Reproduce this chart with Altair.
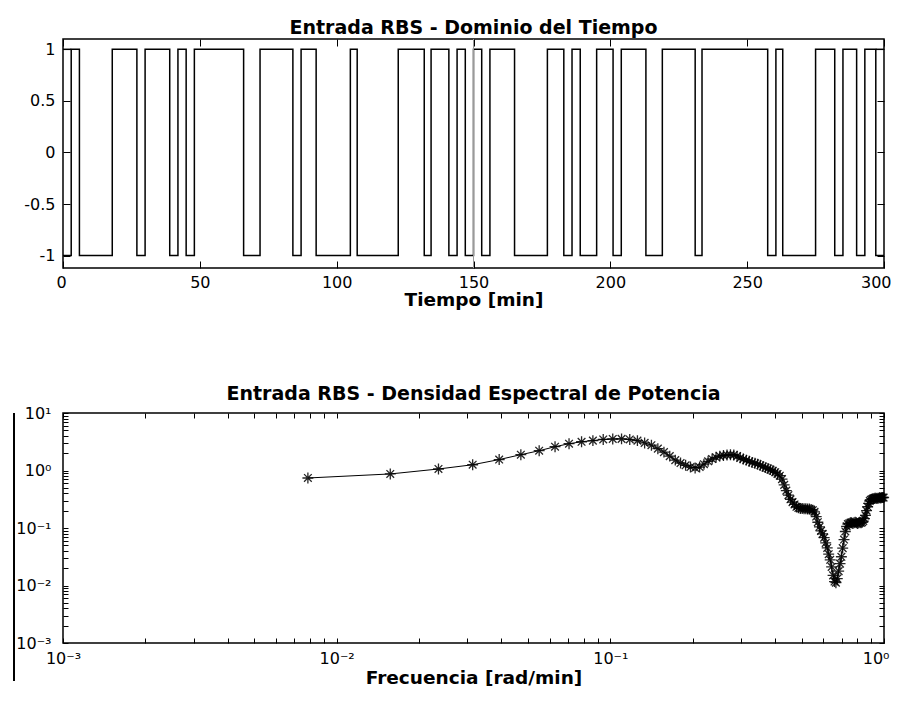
import altair as alt
import pandas as pd

# ---------------- top panel: RBS input, time domain ----------------
SWITCH_T = [3, 6, 18, 27, 30, 39, 42, 45, 48, 66, 72, 84, 87, 92.5, 105, 107.5,
            122.5, 132, 134.5, 141, 144, 147, 150, 153, 156, 165, 177, 183, 186,
            189, 195, 201, 204, 213, 219, 231, 233.5, 257.5, 260.5, 263, 275, 282,
            285, 290, 293, 297]
START_LEVEL = -1
T_END = 300
EXTRA_TOP = [[0, 3], [297, 300]]
MARK_T = [150]
X_TICKS_T = [0, 50, 100, 150, 200, 250, 300]
Y_TICKS_T = [-1, -0.5, 0, 0.5, 1]

# ---------------- bottom panel: power spectral density ----------------
FREQ = [0.00785, 0.0157, 0.02355, 0.0314, 0.03925, 0.0471, 0.05495, 0.0628, 0.07065, 0.0785,
        0.08635, 0.0942, 0.10205, 0.1099, 0.11775, 0.1256, 0.13345, 0.1413, 0.14915, 0.157,
        0.16485, 0.1727, 0.18055, 0.1884, 0.19625, 0.2041, 0.21195, 0.2198, 0.22765, 0.2355,
        0.24335, 0.2512, 0.25905, 0.2669, 0.27475, 0.2826, 0.29045, 0.2983, 0.30615, 0.314,
        0.32185, 0.3297, 0.33755, 0.3454, 0.35325, 0.3611, 0.36895, 0.3768, 0.38465, 0.3925,
        0.40035, 0.4082, 0.41605, 0.4239, 0.43175, 0.4396, 0.44745, 0.4553, 0.46315, 0.471,
        0.47885, 0.4867, 0.49455, 0.5024, 0.51025, 0.5181, 0.52595, 0.5338, 0.54165, 0.5495,
        0.55735, 0.5652, 0.57305, 0.5809, 0.58875, 0.5966, 0.60445, 0.6123, 0.62015, 0.628,
        0.63585, 0.6437, 0.65155, 0.6594, 0.66725, 0.6751, 0.68295, 0.6908, 0.69865, 0.7065,
        0.71435, 0.7222, 0.73005, 0.7379, 0.74575, 0.7536, 0.76145, 0.7693, 0.77715, 0.785,
        0.79285, 0.8007, 0.80855, 0.8164, 0.82425, 0.8321, 0.83995, 0.8478, 0.85565, 0.8635,
        0.87135, 0.8792, 0.88705, 0.8949, 0.90275, 0.9106, 0.91845, 0.9263, 0.93415, 0.942,
        0.94985, 0.9577, 0.96555, 0.9734, 0.98125, 0.9891, 0.99695]
PSD = [0.741, 0.871, 1.062, 1.259, 1.549, 1.884, 2.208, 2.594, 2.924, 3.162,
       3.311, 3.467, 3.532, 3.548, 3.467, 3.311, 3.020, 2.754, 2.399, 2.089,
       1.778, 1.514, 1.349, 1.230, 1.148, 1.109, 1.148, 1.288, 1.445, 1.585,
       1.698, 1.778, 1.820, 1.862, 1.884, 1.862, 1.778, 1.660, 1.585, 1.514,
       1.445, 1.380, 1.334, 1.288, 1.230, 1.175, 1.122, 1.084, 1.035, 0.989,
       0.933, 0.871, 0.813, 0.708, 0.562, 0.447, 0.372, 0.316, 0.282, 0.257,
       0.234, 0.224, 0.219, 0.219, 0.216, 0.216, 0.214, 0.214, 0.209, 0.204,
       0.191, 0.158, 0.126, 0.105, 0.089, 0.079, 0.068, 0.055, 0.045, 0.035,
       0.028, 0.021, 0.015, 0.0117, 0.0112, 0.0132, 0.0178, 0.024, 0.0316, 0.0447,
       0.063, 0.087, 0.107, 0.117, 0.120, 0.123, 0.123, 0.120, 0.123, 0.126,
       0.123, 0.120, 0.123, 0.126, 0.123, 0.126, 0.132, 0.145, 0.166, 0.200,
       0.234, 0.269, 0.295, 0.309, 0.316, 0.324, 0.324, 0.331, 0.331, 0.324,
       0.331, 0.331, 0.339, 0.331, 0.339, 0.339, 0.339]
X_TICKS_LOG = [m * 10.0 ** e for e in (-3, -2, -1) for m in range(1, 10)] + [1.0]
Y_TICKS_LOG = [m * 10.0 ** e for e in (-3, -2, -1, 0) for m in range(1, 10)] + [10.0]

FONT = "DejaVu Sans"
STAR = "M-1,0L1,0M0,-1L0,1M-0.7,-0.7L0.7,0.7M-0.7,0.7L0.7,-0.7"

# ---- build step path of the RBS signal ----
rows = []
lvl = START_LEVEL
rows.append({"t": 0, "u": lvl, "s": "rbs"})
for t in SWITCH_T:
    rows.append({"t": t, "u": lvl, "s": "rbs"})
    lvl = -lvl
    rows.append({"t": t, "u": lvl, "s": "rbs"})
rows.append({"t": T_END, "u": lvl, "s": "rbs"})
for i, r in enumerate(rows):
    r["o"] = i
sig = pd.DataFrame(rows)

extra_rows = []
for i, (a, b) in enumerate(EXTRA_TOP):
    extra_rows.append({"t": a, "u": 1, "s": f"e{i}", "o": 0})
    extra_rows.append({"t": b, "u": 1, "s": f"e{i}", "o": 1})
extra = pd.DataFrame(extra_rows)
marks = pd.DataFrame({"t": MARK_T})

TK = 7
xs_t = alt.Scale(domain=[0, T_END], nice=False, zero=False)
ys_t = alt.Scale(domain=[-1.12, 1.1], nice=False, zero=False)

line_t = alt.Chart(sig).mark_line(color="black", strokeWidth=1.5).encode(
    x=alt.X("t:Q", scale=xs_t,
            axis=alt.Axis(orient="bottom", values=X_TICKS_T, offset=-TK, tickSize=TK,
                          labelPadding=6, labelFlush=True, labelFlushOffset=7,
                          title="Tiempo [min]",
                          titleFontSize=18.5, titleFontWeight="bold", titlePadding=0)),
    y=alt.Y("u:Q", scale=ys_t,
            axis=alt.Axis(orient="left", values=Y_TICKS_T, offset=-TK, tickSize=TK,
                          labelPadding=8, labelExpr="toString(datum.value)", title=None,
                          minExtent=54, maxExtent=54)),
    detail="s:N", order="o:Q")

extra_t = alt.Chart(extra).mark_line(color="black", strokeWidth=1.5).encode(
    x=alt.X("t:Q", scale=xs_t,
            axis=alt.Axis(orient="top", values=X_TICKS_T, offset=-TK, tickSize=TK,
                          labels=False, title=None)),
    y=alt.Y("u:Q", scale=ys_t,
            axis=alt.Axis(orient="right", values=Y_TICKS_T, offset=-TK, tickSize=TK,
                          labels=False, title=None)),
    detail="s:N", order="o:Q")

rule_t = alt.Chart(marks).mark_rule(color="#9a9a9a", strokeWidth=1).encode(
    x=alt.X("t:Q", scale=xs_t, axis=None))

top = alt.layer(line_t, extra_t, rule_t).properties(
    width=821, height=229,
    title=alt.TitleParams("Entrada RBS - Dominio del Tiempo"))

# ---- bottom panel ----
psd = pd.DataFrame({"f": FREQ, "p": PSD})
LOG_LABEL = ("abs(log(datum.value)/LN10 - round(log(datum.value)/LN10)) > 0.01 ? '' : "
             "(round(log(datum.value)/LN10) == -3 ? '10\u207b\u00b3' : "
             "round(log(datum.value)/LN10) == -2 ? '10\u207b\u00b2' : "
             "round(log(datum.value)/LN10) == -1 ? '10\u207b\u00b9' : "
             "round(log(datum.value)/LN10) == 0 ? '10\u2070' : '10\u00b9')")
TK2 = 5
xs_b = alt.Scale(type="log", domain=[0.001, 1], nice=False)
ys_b = alt.Scale(type="log", domain=[0.001, 10], nice=False)

line_b = alt.Chart(psd).mark_line(color="black", strokeWidth=1).encode(
    x=alt.X("f:Q", scale=xs_b,
            axis=alt.Axis(orient="bottom", values=X_TICKS_LOG, offset=-TK2, tickSize=TK2,
                          labelPadding=7, labelFlush=False, labelOverlap=False,
                          labelAlign={"condition": {"test": "datum.value >= 0.999",
                                                    "value": "right"},
                                      "value": "center"},
                          labelOffset={"condition": {"test": "datum.value >= 0.999",
                                                     "value": 5},
                                       "value": 0},
                          labelExpr=LOG_LABEL, title="Frecuencia [rad/min]",
                          titleFontSize=18.5, titleFontWeight="bold", titlePadding=2)),
    y=alt.Y("p:Q", scale=ys_b,
            axis=alt.Axis(orient="left", values=Y_TICKS_LOG, offset=-TK2, tickSize=TK2,
                          labelPadding=12, labelOverlap=False, labelExpr=LOG_LABEL,
                          title=None, minExtent=54, maxExtent=54)))

pts_b = alt.Chart(psd).mark_point(shape=STAR, size=120, filled=False, color="black",
                                  strokeWidth=1.3, opacity=0.85).encode(
    x=alt.X("f:Q", scale=xs_b,
            axis=alt.Axis(orient="top", values=X_TICKS_LOG, offset=-TK2, tickSize=TK2,
                          labels=False, title=None)),
    y=alt.Y("p:Q", scale=ys_b,
            axis=alt.Axis(orient="right", values=Y_TICKS_LOG, offset=-TK2, tickSize=TK2,
                          labels=False, title=None)))

# page border line seen at the left edge of the lower panel
border_b = alt.Chart(pd.DataFrame({"k": [0]})).mark_rule(
    color="black", strokeWidth=2).encode(
    x=alt.value(-49), y=alt.value(0), y2=alt.value(268))

bottom = alt.layer(line_b, pts_b, border_b).properties(
    width=821, height=230,
    title=alt.TitleParams("Entrada RBS - Densidad Espectral de Potencia"))

chart = alt.vconcat(top, bottom, spacing=74).properties(
    padding={"left": 4, "top": 9, "right": 0, "bottom": 0}
).configure(font=FONT).configure_view(
    stroke="black", strokeWidth=1.5
).configure_axis(
    labelFont=FONT, labelFontSize=16, labelColor="black", tickColor="black",
    titleFont=FONT, titleColor="black", grid=False, domain=False, tickWidth=1
).configure_title(
    font=FONT, fontSize=19, fontWeight="bold", color="black", offset=1, anchor="middle"
)

chart.save("out.html", embed_options={"renderer": "svg", "actions": False})
